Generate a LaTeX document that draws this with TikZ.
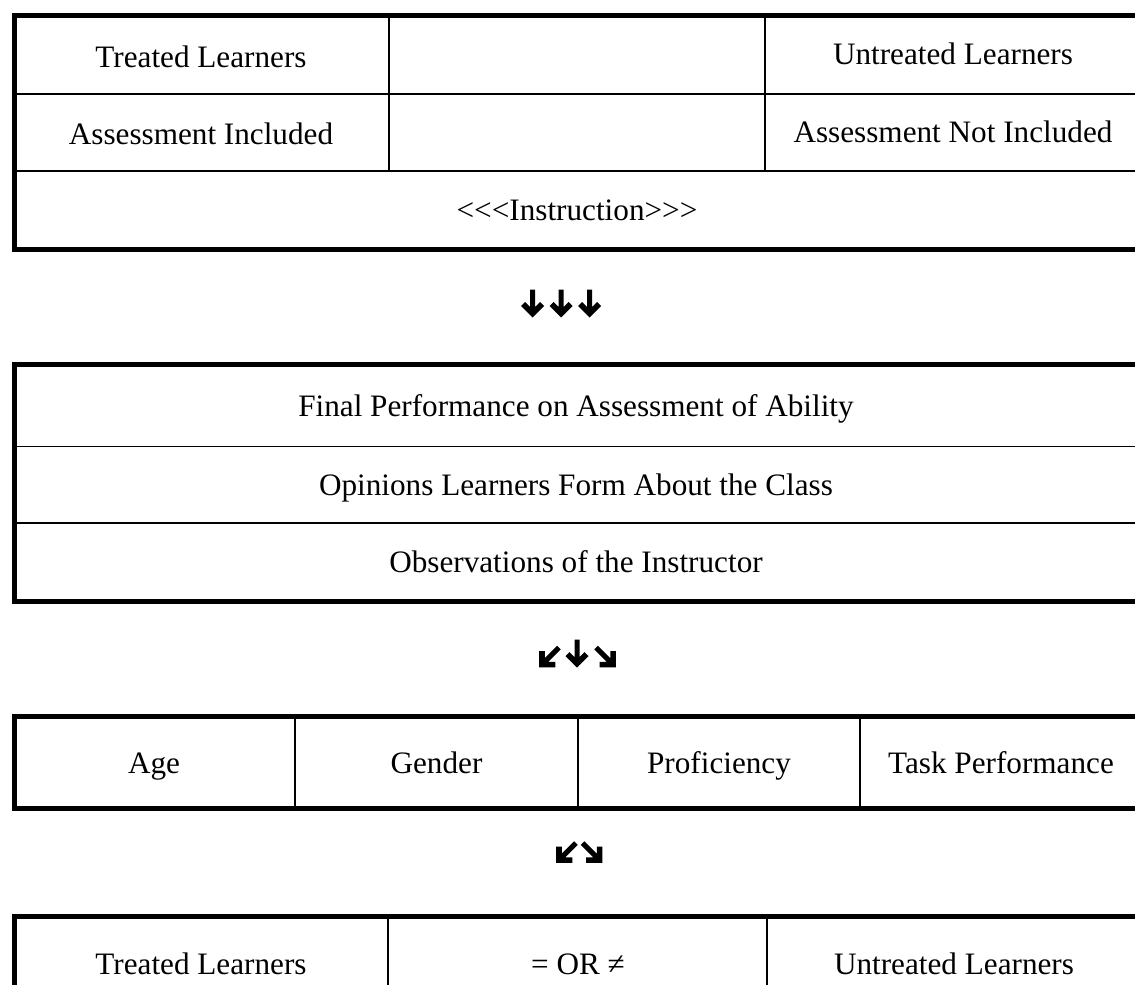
\documentclass[tikz,border=0pt]{standalone}
\usepackage{fontspec}
\setmainfont{Liberation Serif}
\tikzset{
  % heavy block arrow pointing down, centred on the pic origin
  pics/heavyarrow/.style={code={
    \fill (-2.5,-14) -- (2.5,-14) -- (2.5,3.5) -- (7.5,-1.5) -- (11.5,2.5)
          -- (0,14) -- (-11.5,2.5) -- (-7.5,-1.5) -- (-2.5,3.5) -- cycle;
  }},
  frame/.style={line width=2.5pt},
  rule/.style={line width=0.8pt},
  celltext/.style={anchor=base,inner sep=0pt,font=\fontsize{15.6}{18}\selectfont}
}
\begin{document}
\begin{tikzpicture}[x=0.5pt,y=-0.5pt]
\useasboundingbox (0,0) rectangle (1135,985);

% ---- block 1: groups and instruction ----
\draw[frame] (14,15) rectangle (1142,249);
\draw[rule] (14,94) -- (1142,94) (14,171) -- (1142,171)
            (389,15) -- (389,171) (765,15) -- (765,171);
\node[celltext] (treatA)   at (201,67)  {Treated Learners};
\node[celltext] (untreatA) at (953,64)  {Untreated Learners};
\node[celltext] (assessIn) at (201,144) {Assessment Included};
\node[celltext] (assessOut) at (953,142) {Assessment Not Included};
\node[celltext] (instr)    at (577,220) {<\kern0pt<\kern0pt<Instruction>\kern0pt>\kern0pt>};

\pic at (532.5,303.5) {heavyarrow};
\pic at (561,303.5)   {heavyarrow};
\pic at (589.5,303.5) {heavyarrow};

% ---- block 2: outcome measures ----
\draw[frame] (14,364.5) rectangle (1142,601);
\draw[rule] (14,446.5) -- (1142,446.5) (14,523) -- (1142,523);
\node[celltext] (finalperf) at (576,416) {Final Performance on Assessment of Ability};
\node[celltext] (opinions)  at (576,495) {Opinions Learners Form About the Class};
\node[celltext] (observ)    at (576,572) {Observations of the Instructor};

\pic[rotate=-45] at (549,657.5) {heavyarrow};
\pic at (577,653.5) {heavyarrow};
\pic[rotate=45]  at (606,657.5) {heavyarrow};

% ---- block 3: learner variables ----
\draw[frame] (14,716) rectangle (1142,808);
\draw[rule] (295,716) -- (295,808) (578,716) -- (578,808) (860,716) -- (860,808);
\node[celltext] (age)    at (154,773)  {Age};
\node[celltext] (gender) at (436.5,773) {Gender};
\node[celltext] (prof)   at (719,773)  {Proficiency};
\node[celltext] (task)   at (1001,773) {Task Performance};

\pic[rotate=-45] at (566,853) {heavyarrow};
\pic[rotate=45]  at (592.5,853) {heavyarrow};

% ---- block 4: comparison ----
\draw[frame] (14,916) rectangle (1142,1000);
\draw[rule] (388,916) -- (388,1000) (767,916) -- (767,1000);
\node[celltext] (treatB)   at (201,974) {Treated Learners};
\node[celltext] (compare)  at (578,974) {= OR ≠};
\node[celltext] (untreatB) at (954,974) {Untreated Learners};
\end{tikzpicture}
\end{document}
